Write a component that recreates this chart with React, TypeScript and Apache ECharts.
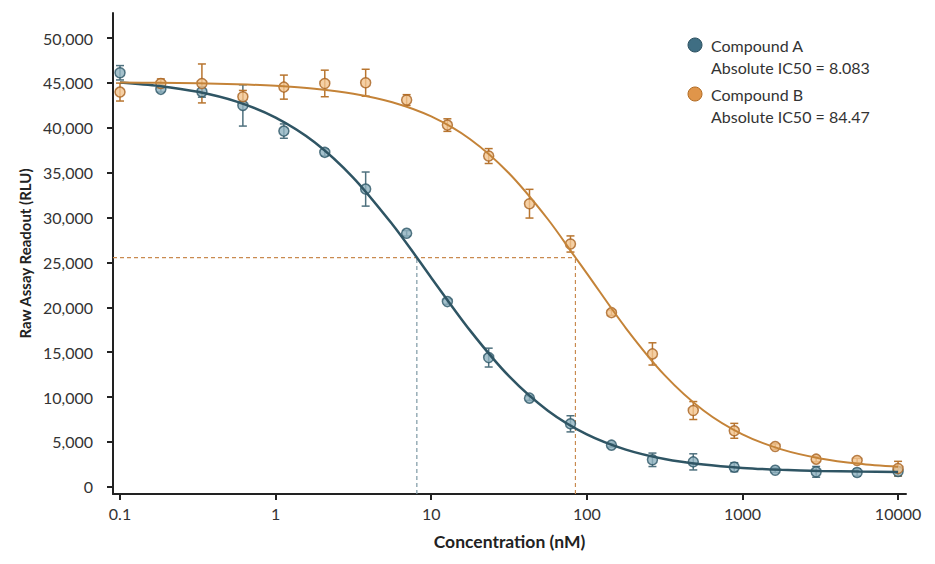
import React, { useEffect, useRef } from "react";
import * as echarts from "echarts";

// Measured concentrations (nM)
const concentrations = [0.1, 0.183, 0.336, 0.616, 1.13, 2.07, 3.79, 6.95, 12.7, 23.4, 42.8, 78.5, 144, 264, 483, 886, 1624, 2976, 5456, 10000];
const compoundAMean = [46140, 44290, 44020, 42500, 39640, 37270, 33180, 28250, 20640, 14400, 9880, 7020, 4640, 3010, 2780, 2190, 1850, 1670, 1600, 1700];
const compoundAErr = [800, 300, 600, 2300, 800, 400, 1900, 300, 300, 1050, 250, 900, 200, 750, 900, 500, 250, 600, 400, 500];
const compoundBMean = [43990, 44950, 44950, 43470, 44540, 44950, 45030, 43100, 40310, 36860, 31550, 27060, 19410, 14810, 8500, 6240, 4490, 3080, 2930, 2040];
const compoundBErr = [1000, 500, 2170, 700, 1340, 1480, 1500, 600, 700, 830, 1600, 900, 300, 1240, 1000, 830, 300, 300, 250, 800];

// Fitted curves
const curveAConc = [0.1, 0.178, 0.316, 0.562, 1, 1.78, 3.16, 5.62, 8.083, 10, 17.8, 31.6, 56.2, 100, 178, 316, 562, 1000, 1780, 3160, 5620, 10000];
const curveAValues = [45064, 44676, 44019, 42923, 41147, 38401, 34436, 29259, 25550, 23309, 17405, 12329, 8487, 5845, 4148, 3102, 2478, 2109, 1895, 1770, 1698, 1656];
const curveBConc = [0.1, 0.178, 0.316, 0.562, 1, 1.78, 3.16, 5.62, 10, 17.8, 31.6, 56.2, 84.47, 100, 178, 316, 562, 1000, 1780, 3160, 5620, 10000];
const curveBValues = [45058, 45025, 44967, 44865, 44684, 44366, 43811, 42857, 41271, 38730, 34936, 29817, 25550, 23786, 17695, 12449, 8510, 5849, 4174, 3168, 2580, 2242];

const seriesNames = ["Compound A", "Compound B"];
const ic50Values = ["8.083", "84.47"];
const ic50Conc = [8.083, 84.47];
const halfResponse = 25550;

const xTickValues = [0.1, 1, 10, 100, 1000, 10000];
const yTickValues = [0, 5000, 10000, 15000, 20000, 25000, 30000, 35000, 40000, 45000, 50000];

const X_MIN = -1.045;
const X_MAX = 4.051;
const Y_MIN = -800;
const Y_MAX = 52800;

const FONT = "Lato";

const colA = { line: "#2f5564", fill: "#8fb2bf", stroke: "#2d5666", err: "#4f717e", legend: "#3f6e83", dash: "#7d98a4" };
const colB = { line: "#c48338", fill: "#f3c48f", stroke: "#a8611f", err: "#b8752f", legend: "#e0954a", dash: "#c98a4f" };

const lg = (v: number) => Math.log10(v);

function errorBarSeries(mean: number[], err: number[], color: string) {
  return {
    type: "custom",
    z: 3,
    data: concentrations.map((c, i) => [lg(c), mean[i] - err[i], mean[i] + err[i]]),
    encode: { x: 0, y: [1, 2] },
    renderItem: (params: any, api: any) => {
      const x = api.value(0);
      const lo = api.coord([x, api.value(1)]);
      const hi = api.coord([x, api.value(2)]);
      const w = 4;
      const style = { stroke: color, lineWidth: 1.5 };
      return {
        type: "group",
        children: [
          { type: "line", shape: { x1: lo[0], y1: lo[1], x2: hi[0], y2: hi[1] }, style },
          { type: "line", shape: { x1: lo[0] - w, y1: lo[1], x2: lo[0] + w, y2: lo[1] }, style },
          { type: "line", shape: { x1: hi[0] - w, y1: hi[1], x2: hi[0] + w, y2: hi[1] }, style },
        ],
      };
    },
    silent: true,
  };
}

export default function App() {
  const ref = useRef<HTMLDivElement>(null);
  useEffect(() => {
    if (!ref.current) return;
    const chart = echarts.init(ref.current, null, { renderer: "svg" });
    const fmtX = (v: number) => {
      const p = Math.round(v);
      const val = Math.pow(10, p);
      return p < 0 ? val.toFixed(-p) : String(val);
    };
    const option: any = {
      animation: false,
      textStyle: { fontFamily: FONT },
      grid: { left: 113, right: 29, top: 13, bottom: 70, outerBoundsMode: "none" },
      xAxis: {
        type: "value",
        min: X_MIN,
        max: X_MAX,
        name: "Concentration (nM)",
        nameLocation: "middle",
        nameGap: 38,
        nameTextStyle: { fontFamily: FONT, fontSize: 17.5, fontWeight: "bold", color: "#222" },
        axisLine: { onZero: false, lineStyle: { color: "#222", width: 2 } },
        axisTick: { show: true, length: 6, lineStyle: { color: "#222", width: 2 }, customValues: xTickValues.map(lg) },
        axisLabel: { fontFamily: FONT, fontSize: 16, color: "#333", margin: 11, customValues: xTickValues.map(lg), formatter: fmtX },
        splitLine: { show: false },
      },
      yAxis: {
        type: "value",
        min: Y_MIN,
        max: Y_MAX,
        name: "Raw Assay Readout (RLU)",
        nameLocation: "middle",
        nameGap: 78,
        nameTextStyle: { fontFamily: FONT, fontSize: 15, fontWeight: "bold", color: "#222" },
        axisLine: { show: true, onZero: false, lineStyle: { color: "#222", width: 2 } },
        axisTick: { show: true, length: 6, lineStyle: { color: "#222", width: 2 }, customValues: yTickValues },
        axisLabel: {
          fontFamily: FONT,
          fontSize: 16,
          color: "#333",
          margin: 20,
          customValues: yTickValues,
          formatter: (v: number) => v.toLocaleString("en-US"),
        },
        splitLine: { show: false },
      },
      series: [
        {
          type: "line",
          z: 1,
          symbol: "none",
          silent: true,
          lineStyle: { color: colB.dash, width: 1.2, type: [4, 3] },
          data: [[X_MIN, halfResponse], [lg(ic50Conc[1]), halfResponse]],
        },
        {
          type: "line",
          z: 1,
          symbol: "none",
          silent: true,
          lineStyle: { color: colA.dash, width: 1.2, type: [4, 3] },
          data: [[lg(ic50Conc[0]), Y_MIN], [lg(ic50Conc[0]), halfResponse]],
        },
        {
          type: "line",
          z: 1,
          symbol: "none",
          silent: true,
          lineStyle: { color: colB.dash, width: 1.2, type: [4, 3] },
          data: [[lg(ic50Conc[1]), Y_MIN], [lg(ic50Conc[1]), halfResponse]],
        },
        errorBarSeries(compoundAMean, compoundAErr, colA.err),
        errorBarSeries(compoundBMean, compoundBErr, colB.err),
        {
          name: seriesNames[0],
          type: "scatter",
          z: 4,
          symbol: "circle",
          symbolSize: 10,
          itemStyle: { color: colA.fill, borderColor: colA.stroke, borderWidth: 1.5 },
          data: concentrations.map((c, i) => [lg(c), compoundAMean[i]]),
        },
        {
          name: seriesNames[1],
          type: "scatter",
          z: 4,
          symbol: "circle",
          symbolSize: 10,
          itemStyle: { color: colB.fill, borderColor: colB.stroke, borderWidth: 1.5 },
          data: concentrations.map((c, i) => [lg(c), compoundBMean[i]]),
        },
        {
          type: "line",
          z: 5,
          symbol: "none",
          smooth: 0.3,
          silent: true,
          lineStyle: { color: colA.line, width: 2.5 },
          data: curveAConc.map((c, i) => [lg(c), curveAValues[i]]),
        },
        {
          type: "line",
          z: 5,
          symbol: "none",
          smooth: 0.3,
          silent: true,
          lineStyle: { color: colB.line, width: 2 },
          data: curveBConc.map((c, i) => [lg(c), curveBValues[i]]),
        },
      ],
      graphic: [
        { type: "circle", shape: { cx: 695, cy: 45, r: 7 }, style: { fill: colA.legend, stroke: "#2c5060", lineWidth: 1 } },
        {
          type: "text",
          x: 711,
          y: 34,
          style: {
            text: `${seriesNames[0]}\nAbsolute IC50 = ${ic50Values[0]}`,
            fontFamily: FONT,
            fontSize: 16,
            lineHeight: 22,
            fill: "#333",
            verticalAlign: "top",
          },
        },
        { type: "circle", shape: { cx: 695, cy: 94, r: 7 }, style: { fill: colB.legend, stroke: "#b06a22", lineWidth: 1 } },
        {
          type: "text",
          x: 711,
          y: 83,
          style: {
            text: `${seriesNames[1]}\nAbsolute IC50 = ${ic50Values[1]}`,
            fontFamily: FONT,
            fontSize: 16,
            lineHeight: 22,
            fill: "#333",
            verticalAlign: "top",
          },
        },
      ],
    };
    chart.setOption(option);
    return () => chart.dispose();
  }, []);
  return <div ref={ref} style={{ position: "fixed", left: 0, top: 0, width: 935, height: 564, background: "#fff" }} />;
}
